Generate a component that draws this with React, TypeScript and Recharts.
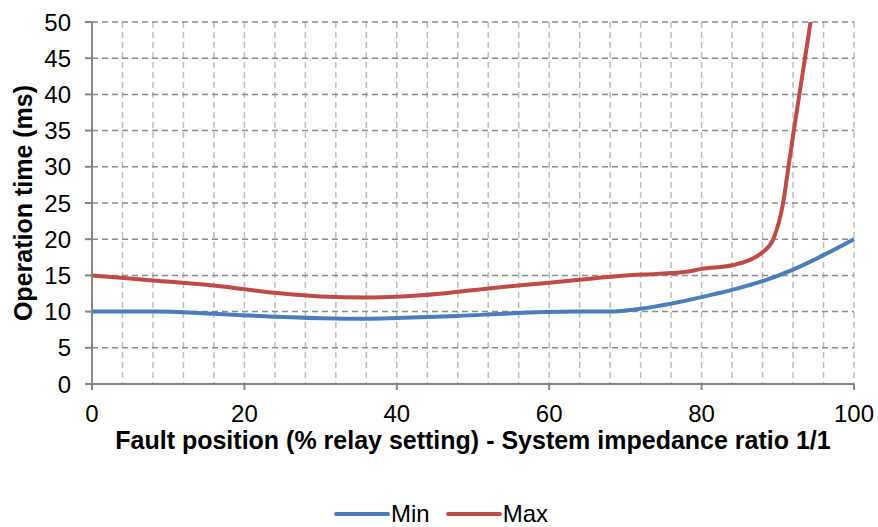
import React from "react";
import { LineChart, Line, XAxis, YAxis, CartesianGrid, Legend } from "recharts";

const minSeries = [
  { x: 0, y: 10 },
  { x: 8, y: 10 },
  { x: 16, y: 9.7 },
  { x: 24, y: 9.3 },
  { x: 32, y: 9.05 },
  { x: 36, y: 9 },
  { x: 40, y: 9.1 },
  { x: 48, y: 9.4 },
  { x: 56, y: 9.8 },
  { x: 64, y: 10 },
  { x: 68, y: 10 },
  { x: 72, y: 10.4 },
  { x: 76, y: 11.1 },
  { x: 80, y: 12 },
  { x: 84, y: 13 },
  { x: 88, y: 14.2 },
  { x: 92, y: 15.8 },
  { x: 96, y: 17.8 },
  { x: 100, y: 20 },
];

const maxSeries = [
  { x: 0, y: 15 },
  { x: 8, y: 14.3 },
  { x: 16, y: 13.6 },
  { x: 20, y: 13.1 },
  { x: 24, y: 12.6 },
  { x: 30, y: 12.1 },
  { x: 36, y: 11.95 },
  { x: 40, y: 12.05 },
  { x: 46, y: 12.5 },
  { x: 52, y: 13.2 },
  { x: 60, y: 14 },
  { x: 66, y: 14.6 },
  { x: 70, y: 15 },
  { x: 74, y: 15.2 },
  { x: 78, y: 15.5 },
  { x: 80, y: 15.9 },
  { x: 84, y: 16.4 },
  { x: 86, y: 17 },
  { x: 88, y: 18.2 },
  { x: 89.4, y: 20 },
  { x: 90.7, y: 25 },
  { x: 91.4, y: 30 },
  { x: 92.1, y: 35 },
  { x: 93.2, y: 42.5 },
  { x: 94.3, y: 50 },
];

const xTicks = [0, 20, 40, 60, 80, 100];
const yTicks = [0, 5, 10, 15, 20, 25, 30, 35, 40, 45, 50];
const xGrid = [0, 4, 8, 12, 16, 20, 24, 28, 32, 36, 40, 44, 48, 52, 56, 60, 64, 68, 72, 76, 80, 84, 88, 92, 96, 100];

const FONT = "'Liberation Sans', Arial, sans-serif";
const BLUE = "#4a7ebb";
const RED = "#be4b48";
const AXIS = "#868686";

const legendItems = [
  { name: "Min", color: BLUE },
  { name: "Max", color: RED },
];

function LegendContent() {
  return (
    <div
      style={{
        display: "flex",
        justifyContent: "center",
        fontFamily: FONT,
        fontSize: 24,
        color: "#000",
        paddingLeft: 4,
      }}
    >
      {legendItems.map((it, i) => (
        <div
          key={it.name}
          style={{ display: "flex", alignItems: "center", marginLeft: i > 0 ? 16 : 0 }}
        >
          <svg width={56} height={8}>
            <line x1={2} y1={4} x2={54} y2={4} stroke={it.color} strokeWidth={4} strokeLinecap="round" />
          </svg>
          <span style={{ marginLeft: 1 }}>{it.name}</span>
        </div>
      ))}
    </div>
  );
}

export default function App() {
  return (
    <div style={{ position: "absolute", left: 0, top: 0, background: "#fff" }}>
      <LineChart width={878} height={527} margin={{ top: 22, right: 24, left: 0, bottom: 63 }}>
        <CartesianGrid
          horizontal={false}
          verticalValues={xGrid}
          stroke="#bdbdbd"
          strokeDasharray="6 4"
          strokeWidth={1.5}
        />
        <CartesianGrid vertical={false} stroke="#8c8c8c" strokeDasharray="6 4" strokeWidth={1.5} />
        <XAxis
          type="number"
          dataKey="x"
          domain={[0, 100]}
          ticks={xTicks}
          height={80}
          tick={{ fontSize: 24, fontFamily: FONT, fill: "#000" }}
          tickSize={6}
          tickMargin={15}
          stroke={AXIS}
          strokeWidth={2}
          label={{
            value: "Fault position (% relay setting) - System impedance ratio 1/1",
            position: "center",
            dy: 16,
            style: { fontSize: 25, fontWeight: "bold", fontFamily: FONT, fill: "#000" },
          }}
        />
        <YAxis
          type="number"
          domain={[0, 50]}
          ticks={yTicks}
          width={92}
          allowDataOverflow
          tick={{ fontSize: 24, fontFamily: FONT, fill: "#000" }}
          tickSize={7}
          tickMargin={14}
          stroke={AXIS}
          strokeWidth={2}
          label={{
            value: "Operation time (ms)",
            angle: -90,
            position: "center",
            dx: -23,
            style: { fontSize: 25, fontWeight: "bold", fontFamily: FONT, fill: "#000" },
          }}
        />
        <Line
          data={minSeries}
          dataKey="y"
          name="Min"
          type="monotone"
          stroke={BLUE}
          strokeWidth={4}
          dot={false}
          isAnimationActive={false}
        />
        <Line
          data={maxSeries}
          dataKey="y"
          name="Max"
          type="monotone"
          stroke={RED}
          strokeWidth={4}
          dot={false}
          isAnimationActive={false}
        />
        <Legend
          layout="horizontal"
          verticalAlign="middle"
          align="center"
          content={<LegendContent />}
          wrapperStyle={{ position: "absolute", top: 500, left: 0, width: 878 }}
        />
      </LineChart>
    </div>
  );
}
